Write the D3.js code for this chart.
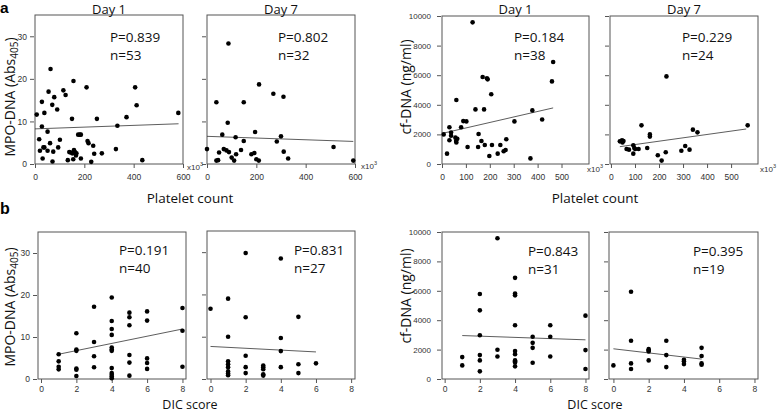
<!DOCTYPE html>
<html><head><meta charset="utf-8">
<script src="https://cdn.jsdelivr.net/npm/d3@7/dist/d3.min.js"></script>
<style>body{margin:0;background:#fff}svg{display:block}</style>
</head><body><svg id="c" width="778" height="413"></svg>
<script>
// ---------- DATA ----------
const mpoPltDay1 = [[7,11.6],[17,5.8],[20,3.1],[28,14.6],[28,8.8],[31,1.3],[34,3.9],[38,12.0],[38,3.9],[51,7.6],[51,3.1],[55,17.0],[61,4.9],[63,22.3],[70,13.9],[71,0.6],[78,15.7],[74,2.9],[90,12.8],[94,3.9],[101,5.7],[115,17.3],[124,16.2],[133,0.9],[139,2.8],[146,2.7],[150,10.6],[151,2.5],[155,1.1],[156,19.5],[162,2.8],[166,2.0],[168,2.5],[158,3.3],[175,6.9],[182,6.9],[186,6.9],[186,1.3],[209,18.0],[213,5.4],[217,4.9],[228,0.5],[236,4.3],[240,2.4],[251,10.6],[271,2.5],[328,3.5],[334,9.0],[371,11.0],[406,18.0],[412,13.8],[435,0.9],[581,12.0]];
const mpoPltDay1Fit = [[0,8.25],[582,9.45]];
const mpoPltDay7 = [[0,3.5],[38,14.5],[38,0.8],[45,0.9],[49,2.7],[62,6.9],[68,3.5],[79,3.2],[84,9.7],[87,28.3],[89,2.8],[100,1.5],[110,0.8],[116,6.3],[118,2.3],[138,3.3],[149,14.5],[149,5.4],[180,2.3],[192,2.6],[195,7.5],[200,1.1],[210,0.8],[211,18.7],[269,16.5],[283,5.3],[300,6.5],[310,15.8],[311,2.9],[329,1.3],[513,4.0],[593,0.8]];
const mpoPltDay7Fit = [[0,6.5],[593,5.3]];
const cfPltDay1 = [[7,2000],[21,700],[31,2480],[31,1600],[38,2120],[38,1910],[56,1780],[60,4320],[59,1550],[64,1700],[60,1450],[80,2480],[89,2900],[102,2880],[107,1150],[128,9570],[140,3690],[151,1150],[153,2030],[165,1550],[170,5880],[176,3690],[179,1280],[188,5790],[191,5720],[198,540],[206,4710],[209,1280],[233,700],[244,1280],[258,860],[266,950],[269,1670],[303,2880],[370,380],[378,3620],[419,3010],[460,5580],[465,6890]];
const cfPltDay1Fit = [[7,2090],[465,3790]];
const cfPltDay7 = [[37,1530],[46,1600],[52,1550],[48,1460],[65,1010],[75,970],[93,1260],[93,700],[97,1080],[101,1010],[115,1010],[127,2610],[151,1080],[162,2000],[162,1850],[195,590],[211,230],[228,790],[231,5920],[293,900],[309,1220],[327,970],[341,2320],[360,2140],[569,2610]];
const cfPltDay7Fit = [[37,1170],[563,2365]];
const mpoDicDay1 = [[1,5.9],[1,4.2],[1,2.9],[1,2.3],[2,10.9],[2,7.0],[2,6.7],[2,2.5],[2,2.2],[2,0.7],[3,17.2],[3,8.8],[3,5.4],[3,2.8],[4,19.4],[4,13.8],[4,11.9],[4,10.5],[4,7.5],[4,7.0],[4,6.7],[4,2.6],[4,1.4],[4,1.0],[4,0.6],[4,0.2],[5,15.8],[5,14.7],[5,12.8],[5,5.7],[5,3.9],[5,0.8],[6,16.1],[6,13.9],[6,4.9],[6,3.8],[6,2.4],[8,16.9],[8,11.5],[8,2.9]];
const mpoDicDay1Fit = [[1,5.9],[8,11.9]];
const mpoDicDay7 = [[0,16.6],[1,19.0],[1,10.0],[1,4.2],[1,2.8],[1,1.8],[1,1.3],[1,0.9],[2,29.8],[2,14.6],[2,5.5],[2,2.8],[2,1.4],[3,3.2],[3,2.8],[3,2.3],[3,1.1],[3,0.8],[4,28.5],[4,9.7],[4,6.6],[4,2.8],[5,14.7],[5,3.5],[5,1.4],[6,3.7],[1,3.5]];
const mpoDicDay7Fit = [[0,7.7],[6,6.4]];
const cfDicDay1 = [[1,1490],[1,925],[2,5780],[2,4670],[2,2980],[2,1625],[2,1265],[2,520],[3,9570],[3,1990],[3,1535],[4,6880],[4,5820],[4,5690],[4,3660],[4,1900],[4,1690],[4,1265],[4,1130],[4,860],[4,1200],[5,2870],[5,2460],[5,2120],[5,1105],[6,3660],[6,2870],[6,1535],[8,4310],[8,1965],[8,680]];
const cfDicDay1Fit = [[1,2955],[8,2665]];
const cfDicDay7 = [[0,925],[1,5940],[1,2600],[1,1060],[1,680],[2,2030],[2,1870],[2,1265],[3,2600],[3,1625],[3,810],[4,1310],[4,1015],[5,2120],[5,1560],[5,1060],[5,970],[4,1200],[2,1950]];
const cfDicDay7Fit = [[0,2055],[5,1355]];

const mpoTicks = [0,10,20,30];
const cfTicks = [0,2000,4000,6000,8000,10000];
const pltTicksMpo = [0,200,400,600];
const pltTicksCf = [0,100,200,300,400,500];
const dicTicks = [0,2,4,6,8];
const dayTitles = ["Day 1","Day 7","Day 1","Day 7"];
const pLabels = ["P=0.839","P=0.802","P=0.184","P=0.229","P=0.191","P=0.831","P=0.843","P=0.395"];
const nLabels = ["n=53","n=32","n=38","n=24","n=40","n=27","n=31","n=19"];

// ---------- LAYOUT ----------
const panels = [
 {d:mpoPltDay1,f:mpoPltDay1Fit,x0:35,x1:183,y0:15,y1:164,xd:[0,600],yd:[0,35],xt:pltTicksMpo,yt:mpoTicks,ylab:true,lx:110,ly:42,unit:[187,170],xp:6},
 {d:mpoPltDay7,f:mpoPltDay7Fit,x0:207,x1:355,y0:15,y1:164,xd:[0,600],yd:[0,35],xt:pltTicksMpo,yt:mpoTicks,ylab:false,lx:278,ly:42,unit:[361,169],xp:6},
 {d:cfPltDay1,f:cfPltDay1Fit,x0:442,x1:589,y0:16,y1:164,xd:[0,615],yd:[0,10000],xt:pltTicksCf,yt:cfTicks,ylab:true,lx:514,ly:42,unit:[587,172],xp:6},
 {d:cfPltDay7,f:cfPltDay7Fit,x0:610,x1:758,y0:16,y1:164,xd:[-4,612],yd:[0,10000],xt:pltTicksCf,yt:cfTicks,ylab:false,lx:682,ly:42,unit:[760,172],xp:6},
 {d:mpoDicDay1,f:mpoDicDay1Fit,x0:38,x1:186,y0:232,y1:379,xd:[-0.17,8.2],yd:[0,35],xt:dicTicks,yt:mpoTicks,ylab:true,lx:119,ly:255,xp:3},
 {d:mpoDicDay7,f:mpoDicDay7Fit,x0:207,x1:355,y0:231,y1:379,xd:[-0.2,8.22],yd:[0,35],xt:dicTicks,yt:mpoTicks,ylab:false,lx:294,ly:255,xp:3},
 {d:cfDicDay1,f:cfDicDay1Fit,x0:442,x1:589,y0:232,y1:379,xd:[-0.15,8.2],yd:[0,10000],xt:dicTicks,yt:cfTicks,ylab:true,lx:528,ly:256,xp:3},
 {d:cfDicDay7,f:cfDicDay7Fit,x0:609,x1:758,y0:232,y1:379,xd:[-0.25,8.2],yd:[0,10000],xt:dicTicks,yt:cfTicks,ylab:false,lx:693,ly:256,xp:3}
];

const svg = d3.select("#c");
const TF = "'Open Sans', 'Noto Sans', sans-serif";
const AF = "'Liberation Sans', Arial, sans-serif";

panels.forEach((p,i)=>{
  const x = d3.scaleLinear().domain(p.xd).range([p.x0,p.x1]);
  const y = d3.scaleLinear().domain(p.yd).range([p.y1,p.y0]);
  const g = svg.append("g");
  g.append("rect").attr("x",p.x0).attr("y",p.y0).attr("width",p.x1-p.x0).attr("height",p.y1-p.y0)
    .attr("fill","none").attr("stroke","#555").attr("stroke-width",1);
  const ya = d3.axisLeft(y).tickValues(p.yt).tickSize(4).tickPadding(p.yd[1]>100?6:3)
     .tickFormat(p.ylab ? d3.format("d") : "");
  const yg = g.append("g").attr("transform",`translate(${p.x0-1},0)`).call(ya);
  yg.select(".domain").remove();
  yg.selectAll("line").attr("stroke","#555");
  yg.selectAll("text").attr("font-family",AF).attr("font-size",p.yd[1]>100?8:8.5).attr("fill","#333");
  const xa = d3.axisBottom(x).tickValues(p.xt).tickSize(4).tickPadding(p.xp).tickFormat(d3.format("d"));
  const xg = g.append("g").attr("transform",`translate(0,${p.y1})`).call(xa);
  xg.select(".domain").remove();
  xg.selectAll("line").attr("stroke","#555");
  xg.selectAll("text").attr("font-family",AF).attr("font-size",8.5).attr("fill","#333");
  g.append("line").attr("x1",x(p.f[0][0])).attr("y1",y(p.f[0][1])).attr("x2",x(p.f[1][0])).attr("y2",y(p.f[1][1]))
    .attr("stroke","#333").attr("stroke-width",0.8);
  g.selectAll("circle").data(p.d).join("circle").attr("cx",d=>x(d[0])).attr("cy",d=>y(d[1])).attr("r",2.3).attr("fill","#000");
  g.append("text").attr("x",p.lx).attr("y",p.ly).text(pLabels[i]).attr("font-family",TF).attr("font-size",13.5).attr("fill","#111");
  g.append("text").attr("x",p.lx).attr("y",p.ly+18).text(nLabels[i]).attr("font-family",TF).attr("font-size",13.5).attr("fill","#111");
  if (p.unit) {
    const t = g.append("text").attr("x",p.unit[0]).attr("y",p.unit[1]).attr("font-family",AF).attr("font-size",8).attr("fill","#333");
    t.append("tspan").text("x10");
    t.append("tspan").text("3").attr("font-size",5.5).attr("dy",-4);
  }
  if (i<4) {
    svg.append("text").attr("x",(p.x0+p.x1)/2).attr("y",13.5).attr("text-anchor","middle").text(dayTitles[i])
      .attr("font-family",TF).attr("font-size",13).attr("fill","#111");
  }
});

svg.append("text").attr("x",0).attr("y",13).text("a").attr("font-family",AF).attr("font-weight","bold").attr("font-size",15.5);
svg.append("text").attr("x",0).attr("y",214).text("b").attr("font-family",AF).attr("font-weight","bold").attr("font-size",16);

[[190,203,"Platelet count",13.5],[595,203,"Platelet count",13.5],[190,409,"DIC score",12.5],[595,409,"DIC score",12.5]].forEach(a=>{
  svg.append("text").attr("x",a[0]).attr("y",a[1]).attr("text-anchor","middle").text(a[2])
    .attr("font-family",TF).attr("font-size",a[3]).attr("fill","#111");
});
function mpoLabel(cx,cy){
  const t = svg.append("text").attr("transform",`translate(${cx},${cy}) rotate(-90)`).attr("text-anchor","middle")
     .attr("font-family",TF).attr("font-size",14).attr("fill","#111");
  t.append("tspan").text("MPO-DNA (Abs");
  t.append("tspan").text("405").attr("font-size",10).attr("dy",3);
  t.append("tspan").text(")").attr("dy",-3);
}
function cfLabel(cx,cy){
  svg.append("text").attr("transform",`translate(${cx},${cy}) rotate(-90)`).attr("text-anchor","middle")
     .attr("font-family",TF).attr("font-size",14).attr("fill","#111").text("cf-DNA (ng/ml)");
}
mpoLabel(15,97);
mpoLabel(15,307);
cfLabel(411,87);
cfLabel(411,296);
</script></body></html>
